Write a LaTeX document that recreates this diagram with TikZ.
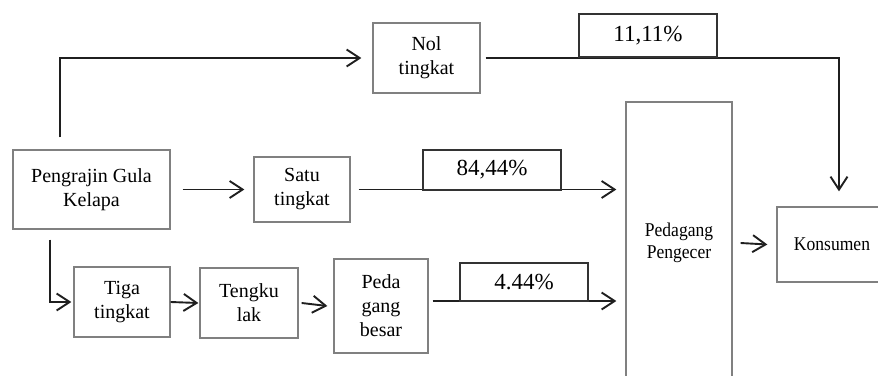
\documentclass[tikz,border=0pt]{standalone}
\usepackage{fontspec}
\setmainfont{Liberation Serif}
\newfontfamily\condserif[FakeStretch=0.9]{Liberation Serif}
\usetikzlibrary{arrows.meta}
\tikzset{
  box/.style={draw=black!50, line width=1.3pt, fill=white, align=center, inner sep=0pt,
    font=\fontsize{20}{24}\selectfont},
  pbox/.style={draw=black!80, line width=1.4pt, fill=white, align=center, inner sep=0pt,
    font=\fontsize{23}{27}\selectfont},
  sbox/.style={box, font=\condserif\fontsize{19.5}{21.5}\selectfont},
  arr/.style={draw=black!88, line width=1.9pt, -{Straight Barb[length=13pt,width=17pt,line width=1.9pt]}},
  ln/.style={draw=black!88, line width=1.9pt}
}
\begin{document}
\begin{tikzpicture}[x=1pt,y=-1pt]
\useasboundingbox (0,0) rectangle (878,375);
\clip (0,0) rectangle (878,375);
% nodes
\node[box, minimum width=157, minimum height=79] (pg) at (91.5,189.5) {Pengrajin Gula\\Kelapa};
\node[box, minimum width=107, minimum height=70] (nol) at (426.5,58) {Nol\\tingkat};
\node[box, minimum width=96, minimum height=65] (satu) at (302,189.5) {Satu\\tingkat};
\node[sbox, minimum width=106, minimum height=282] (ped) at (679,243) {Pedagang\\Pengecer};
\node[sbox, minimum width=110, minimum height=75] (ks) at (832,244.5) {Konsumen};
\node[box, minimum width=96, minimum height=70] (tiga) at (122,302) {Tiga\\tingkat};
\node[box, minimum width=98, minimum height=70] (teng) at (249,303) {Tengku\\lak};
\node[box, minimum width=94, minimum height=94] (peda) at (381,306) {Peda\\gang\\besar};
% connectors
\draw[arr] ([xshift=48pt,yshift=12pt]pg.north west) |- ([xshift=-11pt]nol.west);
\draw[arr] ([xshift=5pt]nol.east) -| ([xshift=7pt,yshift=15pt]ks.north);
\draw[arr] ([xshift=12pt]pg.east) -- ([xshift=-9pt]satu.west);
\coordinate (s1) at ([xshift=8pt]satu.east);
\draw[arr] (s1) -- ([xshift=-9pt]ped.west |- s1);
\draw[arr] ([xshift=38pt,yshift=-10pt]pg.south west) |- ([xshift=-2pt]tiga.west);
\draw[arr] (tiga.east) -- ([xshift=-1pt]teng.west);
\draw[arr] ([xshift=3pt]teng.east) -- ([xshift=-6pt]peda.west);
\coordinate (p1) at ([xshift=4pt,yshift=5pt]peda.east);
\draw[arr] (p1) -- ([xshift=-9pt]ped.west |- p1);
\draw[arr] ([xshift=8pt]ped.east) -- ([xshift=-9pt]ks.west);
% percentage boxes sitting on the lines
\node[pbox, minimum width=138, minimum height=43] (p11) at (648,35.5) {11,11\%};
\node[pbox, minimum width=138, minimum height=40] (p84) at (492,170) {84,44\%};
\node[pbox, minimum width=128, minimum height=38] (p4) at (524,282) {4.44\%};
\end{tikzpicture}
\end{document}
